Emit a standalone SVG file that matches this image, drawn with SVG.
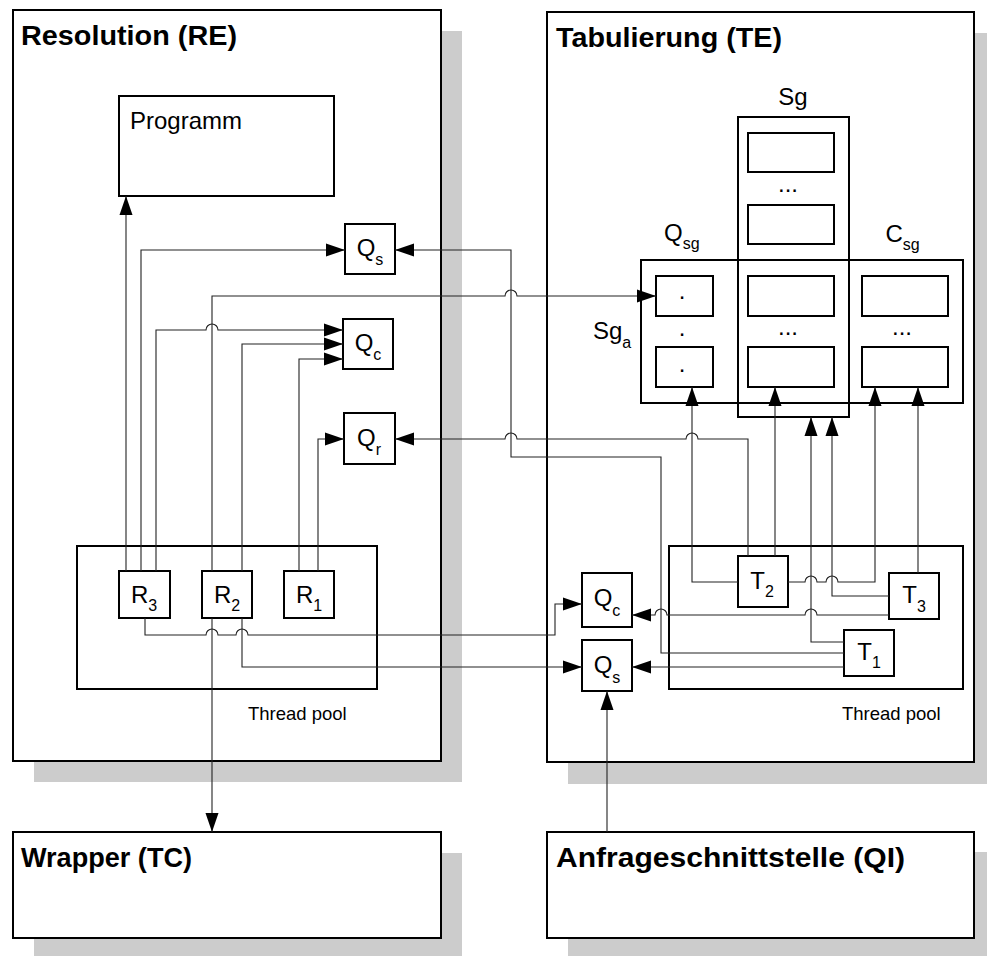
<svg xmlns="http://www.w3.org/2000/svg" width="987" height="956" viewBox="0 0 987 956">
<style>
text{font-family:"Liberation Sans",Arial,Helvetica,sans-serif;fill:#000}
.title{font-size:27px;font-weight:bold}
.lbl{font-size:24px}
.sub{font-size:16px}
.tp{font-size:18.5px}
.shadow{fill:#cccccc;stroke:none}
.panel{fill:#fff;stroke:#000;stroke-width:2}
.box{fill:#fff;stroke:#000;stroke-width:2}
.open{fill:none;stroke:#000;stroke-width:2}
.con{fill:none;stroke:#222;stroke-width:1.1}
</style>
<defs>
<marker id="ah" markerUnits="userSpaceOnUse" markerWidth="20" markerHeight="14" refX="19" refY="7" orient="auto" viewBox="0 0 20 14">
<path d="M0,0.5 L19,7 L0,13.5 z" fill="#000"/>
</marker>
</defs>

<g id="shadows">
<rect class="shadow" x="34" y="31" width="428" height="751"/>
<rect class="shadow" x="568" y="33" width="427" height="751"/>
<rect class="shadow" x="34" y="853" width="428" height="106"/>
<rect class="shadow" x="568" y="852" width="427" height="106"/>
</g>

<g id="panel-RE">
<rect class="panel" x="13" y="10" width="428" height="751"/>
<text class="title" x="21" y="45" textLength="216" lengthAdjust="spacingAndGlyphs">Resolution (RE)</text>
</g>
<g id="panel-TE">
<rect class="panel" x="547" y="12" width="427" height="750"/>
<text class="title" x="556" y="47" textLength="226" lengthAdjust="spacingAndGlyphs">Tabulierung (TE)</text>
</g>
<g id="wrapper">
<rect class="panel" x="13" y="832" width="428" height="106"/>
<text class="title" x="21" y="867" textLength="171" lengthAdjust="spacingAndGlyphs">Wrapper (TC)</text>
</g>
<g id="anfrage">
<rect class="panel" x="547" y="832" width="427" height="106"/>
<text class="title" x="556" y="867" textLength="349" lengthAdjust="spacingAndGlyphs">Anfrageschnittstelle (QI)</text>
</g>

<g id="programm">
<rect class="box" x="119" y="96" width="215" height="100"/>
<text class="lbl" x="130" y="129">Programm</text>
</g>

<g id="threadpool-RE">
<rect class="open" x="77" y="546" width="300" height="143"/>
<text class="tp" x="248" y="720">Thread pool</text>
</g>
<g id="threadpool-TE">
<rect class="open" x="669" y="546" width="294" height="143"/>
<text class="tp" x="842" y="720">Thread pool</text>
</g>

<g id="Qs-RE">
<rect class="box" x="345" y="224" width="50" height="50"/>
<text class="lbl" x="370" y="256" text-anchor="middle">Q<tspan class="sub" dy="9">s</tspan></text>
</g>
<g id="Qc-RE">
<rect class="box" x="343" y="319" width="50" height="50"/>
<text class="lbl" x="368" y="351" text-anchor="middle">Q<tspan class="sub" dy="9">c</tspan></text>
</g>
<g id="Qr-RE">
<rect class="box" x="344" y="413" width="51" height="51"/>
<text class="lbl" x="369" y="446" text-anchor="middle">Q<tspan class="sub" dy="9">r</tspan></text>
</g>

<g id="R3">
<rect class="box" x="119" y="571" width="51" height="47"/>
<text class="lbl" x="144" y="603" text-anchor="middle">R<tspan class="sub" dy="8">3</tspan></text>
</g>
<g id="R2">
<rect class="box" x="202" y="571" width="50" height="47"/>
<text class="lbl" x="227" y="603" text-anchor="middle">R<tspan class="sub" dy="8">2</tspan></text>
</g>
<g id="R1">
<rect class="box" x="284" y="571" width="50" height="47"/>
<text class="lbl" x="309" y="603" text-anchor="middle">R<tspan class="sub" dy="8">1</tspan></text>
</g>

<g id="Sg">
<rect class="open" x="641" y="260" width="322" height="143"/>
<rect class="open" x="738" y="117" width="111" height="300"/>
<text class="lbl" x="793" y="105" text-anchor="middle">Sg</text>
<rect class="box" x="748" y="133" width="86" height="39"/>
<text class="lbl" x="788" y="192" text-anchor="middle">...</text>
<rect class="box" x="748" y="205" width="86" height="39"/>
<rect class="box" x="748" y="276" width="86" height="40"/>
<text class="lbl" x="788" y="335" text-anchor="middle">...</text>
<rect class="box" x="748" y="347" width="86" height="40"/>
</g>
<g id="Qsg">
<text class="lbl" x="664" y="241">Q<tspan class="sub" dy="8">sg</tspan></text>
<text class="lbl" x="593" y="339">Sg<tspan class="sub" dy="8.5">a</tspan></text>
<rect class="box" x="656" y="276" width="57" height="40"/>
<text class="lbl" x="682" y="298.5" text-anchor="middle">.</text>
<text class="lbl" x="682" y="335.5" text-anchor="middle">.</text>
<rect class="box" x="656" y="347" width="57" height="40"/>
<text class="lbl" x="682" y="371.5" text-anchor="middle">.</text>
</g>
<g id="Csg">
<text class="lbl" x="885.5" y="242">C<tspan class="sub" dy="8">sg</tspan></text>
<rect class="box" x="862" y="276" width="86" height="40"/>
<text class="lbl" x="902" y="335" text-anchor="middle">...</text>
<rect class="box" x="862" y="347" width="86" height="40"/>
</g>

<g id="Qc-TE">
<rect class="box" x="582" y="573" width="50" height="54"/>
<text class="lbl" x="607" y="606" text-anchor="middle">Q<tspan class="sub" dy="10">c</tspan></text>
</g>
<g id="Qs-TE">
<rect class="box" x="582" y="640" width="50" height="51"/>
<text class="lbl" x="607" y="673" text-anchor="middle">Q<tspan class="sub" dy="9.5">s</tspan></text>
</g>
<g id="T2">
<rect class="box" x="738" y="556" width="50" height="51"/>
<text class="lbl" x="762" y="589" text-anchor="middle">T<tspan class="sub" dy="8">2</tspan></text>
</g>
<g id="T3">
<rect class="box" x="889" y="573" width="50" height="46"/>
<text class="lbl" x="914" y="603" text-anchor="middle">T<tspan class="sub" dy="8.5">3</tspan></text>
</g>
<g id="T1">
<rect class="box" x="844" y="630" width="50" height="46"/>
<text class="lbl" x="869" y="660" text-anchor="middle">T<tspan class="sub" dy="8">1</tspan></text>
</g>

<g id="connectors">
<path class="con" marker-end="url(#ah)" d="M126,571 V196"/>
<path class="con" marker-end="url(#ah)" d="M141,571 V250 H345"/>
<path class="con" marker-end="url(#ah)" d="M156,571 V330 H206 A6,6 0 0 1 218,330 H343"/>
<path class="con" marker-end="url(#ah)" d="M212,571 V296 H505 A6,6 0 0 1 517,296 H656"/>
<path class="con" marker-end="url(#ah)" d="M242,571 V344 H343"/>
<path class="con" marker-end="url(#ah)" d="M299,571 V359 H343"/>
<path class="con" marker-end="url(#ah)" d="M318,571 V439 H344"/>
<path class="con" marker-end="url(#ah)" d="M212,618 V832"/>
<path class="con" marker-end="url(#ah)" d="M145,618 V635 H206 A6,6 0 0 1 218,635 H236 A6,6 0 0 1 248,635 H555 V604 H582"/>
<path class="con" marker-end="url(#ah)" d="M242,618 V667 H582"/>
<path class="con" marker-end="url(#ah)" d="M748,556 V439 H698 A6,6 0 0 0 686,439 H517 A6,6 0 0 0 505,439 H395"/>
<path class="con" marker-end="url(#ah)" d="M844,653 H661 V457 H511 V250 H395"/>
<path class="con" marker-end="url(#ah)" d="M738,582 H692 V387"/>
<path class="con" marker-end="url(#ah)" d="M775,556 V387"/>
<path class="con" marker-end="url(#ah)" d="M788,582 H805 A6,6 0 0 1 817,582 H826 A6,6 0 0 1 838,582 H875 V387"/>
<path class="con" marker-end="url(#ah)" d="M844,642 H811 V417"/>
<path class="con" marker-end="url(#ah)" d="M889,596 H832 V417"/>
<path class="con" marker-end="url(#ah)" d="M918,573 V387"/>
<path class="con" marker-end="url(#ah)" d="M889,615 H817 A6,6 0 0 0 805,615 H667 A6,6 0 0 0 655,615 H632"/>
<path class="con" marker-end="url(#ah)" d="M844,667 H632"/>
<path class="con" marker-end="url(#ah)" d="M607,832 V691"/>
</g>
</svg>
